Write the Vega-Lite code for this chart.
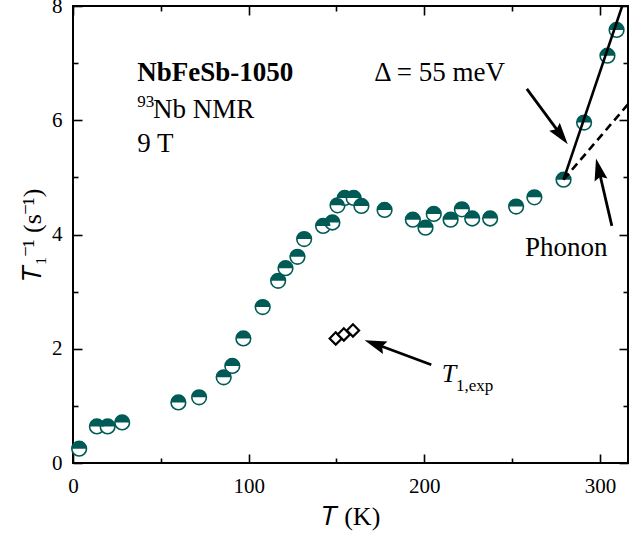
{
  "$schema": "https://vega.github.io/schema/vega-lite/v6.json",
  "width": 555,
  "height": 457,
  "autosize": {"type": "none"},
  "padding": {"left": 73, "top": 6, "right": 1, "bottom": 83},
  "background": "white",
  "config": {
    "view": {"stroke": "black", "strokeWidth": 2},
    "font": "Times New Roman, Liberation Serif, serif",
    "axis": {
      "domain": false,
      "grid": false,
      "labelFont": "Times New Roman, Liberation Serif, serif",
      "titleFont": "Times New Roman, Liberation Serif, serif",
      "labelColor": "black",
      "titleColor": "black",
      "tickColor": "black",
      "tickWidth": 1.6,
      "labelFontSize": 21,
      "titleFontSize": 26,
      "titleFontWeight": "normal",
      "labelFlush": false
    }
  },
  "datasets": {
    "main": [
      {"T": 3.5, "v": 0.25}, {"T": 13.6, "v": 0.64}, {"T": 19.7, "v": 0.64}, {"T": 28, "v": 0.71},
      {"T": 60, "v": 1.06}, {"T": 71.8, "v": 1.15}, {"T": 85.8, "v": 1.5}, {"T": 90.7, "v": 1.7},
      {"T": 97, "v": 2.18}, {"T": 108, "v": 2.73}, {"T": 116.8, "v": 3.19}, {"T": 121, "v": 3.41},
      {"T": 127.8, "v": 3.61}, {"T": 131.6, "v": 3.92}, {"T": 142.4, "v": 4.15}, {"T": 147.7, "v": 4.21},
      {"T": 150.6, "v": 4.51}, {"T": 154.7, "v": 4.64}, {"T": 159.8, "v": 4.64}, {"T": 164.2, "v": 4.5},
      {"T": 177.4, "v": 4.43}, {"T": 193.5, "v": 4.26}, {"T": 200.7, "v": 4.12}, {"T": 205.4, "v": 4.36},
      {"T": 215, "v": 4.26}, {"T": 221.4, "v": 4.44}, {"T": 227.3, "v": 4.28}, {"T": 237.5, "v": 4.28},
      {"T": 252.3, "v": 4.49}, {"T": 262.7, "v": 4.65}, {"T": 279.3, "v": 4.96}, {"T": 291, "v": 5.96},
      {"T": 304.3, "v": 7.13}, {"T": 309.5, "v": 7.58}
    ],
    "exp": [
      {"T": 149.6, "v": 2.18}, {"T": 154.2, "v": 2.25}, {"T": 159.4, "v": 2.32}
    ],
    "fit": [
      {"T": 279.3, "v": 4.96}, {"T": 313.8, "v": 8.1}
    ],
    "phonon": [
      {"T": 279.3, "v": 4.96}, {"T": 316, "v": 6.28}
    ],
    "arrows": [
      {"id": "gap", "T": 258.4, "v": 6.55, "T2": 276.9, "v2": 5.78},
      {"id": "phonon", "T": 306.8, "v": 4.15, "T2": 299.7, "v2": 5.09},
      {"id": "exp", "T": 204, "v": 1.72, "T2": 173.4, "v2": 2.07}
    ],
    "heads": [
      {"id": "gap", "T": 281.7, "v": 5.58},
      {"id": "phonon", "T": 297.8, "v": 5.33},
      {"id": "exp", "T": 166, "v": 2.15}
    ],
    "labels": [
      {"kind": "bold", "T": 36.6, "v": 6.69, "text": "NbFeSb-1050"},
      {"kind": "normal", "T": 45.5, "v": 6.04, "text": "Nb NMR"},
      {"kind": "small", "T": 36.6, "v": 6.23, "text": "93"},
      {"kind": "normal", "T": 36.6, "v": 5.45, "text": "9 T"},
      {"kind": "normal", "T": 171.5, "v": 6.69, "text": "Δ = 55 meV"},
      {"kind": "normal", "T": 257.4, "v": 3.62, "text": "Phonon"},
      {"kind": "italic", "T": 210, "v": 1.41, "text": "T"},
      {"kind": "small", "T": 218, "v": 1.26, "text": "1,exp"}
    ]
  },
  "encoding": {
    "x": {"field": "T", "type": "quantitative", "scale": {"domain": [0, 316], "nice": false, "zero": false}, "axis": null},
    "y": {"field": "v", "type": "quantitative", "scale": {"domain": [0, 8], "nice": false, "zero": false}, "axis": null}
  },
  "resolve": {"axis": {"x": "independent", "y": "independent"}},
  "layer": [
    {
      "data": {"name": "main"},
      "mark": {"type": "point", "shape": "circle", "filled": true, "fill": "white", "stroke": "#005a55", "strokeWidth": 1.6, "size": 215, "opacity": 1},
      "encoding": {
        "x": {
          "field": "T", "type": "quantitative",
          "scale": {"domain": [0, 316], "nice": false, "zero": false},
          "axis": {
            "orient": "bottom",
            "values": [0, 50, 100, 150, 200, 250, 300],
            "labelExpr": "datum.value % 100 === 0 ? datum.label : ''",
            "tickSize": {"condition": {"test": "datum.value % 100 === 0", "value": -9}, "value": -5},
            "labelPadding": 21,
            "title": "𝑇 (K)",
            "titlePadding": 7
          }
        },
        "y": {
          "field": "v", "type": "quantitative",
          "scale": {"domain": [0, 8], "nice": false, "zero": false},
          "axis": {
            "orient": "left",
            "values": [0, 1, 2, 3, 4, 5, 6, 7, 8],
            "labelExpr": "datum.value % 2 === 0 ? datum.label : ''",
            "tickSize": {"condition": {"test": "datum.value % 2 === 0", "value": -9}, "value": -5},
            "labelPadding": 20,
            "title": "𝑇₁⁻¹ (s⁻¹)",
            "titlePadding": 6
          }
        }
      }
    },
    {
      "data": {"name": "main"},
      "mark": {"type": "point", "shape": "M-1,0 A1,1 0 0 1 1,0 Z", "filled": true, "fill": "#005a55", "strokeWidth": 0, "size": 215, "opacity": 1},
      "encoding": {
        "x": {
          "field": "T", "type": "quantitative",
          "scale": {"domain": [0, 316], "nice": false, "zero": false},
          "axis": {
            "orient": "top",
            "values": [0, 50, 100, 150, 200, 250, 300],
            "labels": false,
            "tickSize": {"condition": {"test": "datum.value % 100 === 0", "value": -9}, "value": -5},
            "title": null
          }
        },
        "y": {
          "field": "v", "type": "quantitative",
          "scale": {"domain": [0, 8], "nice": false, "zero": false},
          "axis": {
            "orient": "right",
            "values": [0, 1, 2, 3, 4, 5, 6, 7, 8],
            "labels": false,
            "tickSize": {"condition": {"test": "datum.value % 2 === 0", "value": -9}, "value": -5},
            "title": null
          }
        }
      }
    },
    {
      "data": {"name": "fit"},
      "mark": {"type": "line", "color": "black", "strokeWidth": 2.6, "clip": true}
    },
    {
      "data": {"name": "phonon"},
      "mark": {"type": "line", "color": "black", "strokeWidth": 2.6, "strokeDash": [8, 5], "clip": true}
    },
    {
      "data": {"name": "exp"},
      "mark": {"type": "point", "shape": "diamond", "filled": true, "fill": "white", "stroke": "black", "strokeWidth": 2.2, "size": 150, "opacity": 1}
    },
    {
      "data": {"name": "arrows"},
      "mark": {"type": "rule", "color": "black", "strokeWidth": 2.8},
      "encoding": {
        "x2": {"field": "T2"},
        "y2": {"field": "v2"}
      }
    },
    {
      "data": {"name": "heads"},
      "transform": [{"filter": "datum.id === 'gap'"}],
      "mark": {"type": "point", "shape": "M0,0 L0.6,2 L0,1.7 L-0.6,2 Z", "filled": true, "color": "black", "opacity": 1, "size": 484, "angle": 143}
    },
    {
      "data": {"name": "heads"},
      "transform": [{"filter": "datum.id === 'phonon'"}],
      "mark": {"type": "point", "shape": "M0,0 L0.6,2 L0,1.7 L-0.6,2 Z", "filled": true, "color": "black", "opacity": 1, "size": 484, "angle": 347}
    },
    {
      "data": {"name": "heads"},
      "transform": [{"filter": "datum.id === 'exp'"}],
      "mark": {"type": "point", "shape": "M0,0 L0.6,2 L0,1.7 L-0.6,2 Z", "filled": true, "color": "black", "opacity": 1, "size": 484, "angle": 290}
    },
    {
      "data": {"name": "labels"},
      "transform": [{"filter": "datum.kind === 'bold'"}],
      "mark": {"type": "text", "align": "left", "baseline": "alphabetic", "font": "Times New Roman, Liberation Serif, serif", "fontSize": 27, "fontWeight": "bold", "color": "black"},
      "encoding": {"text": {"field": "text"}}
    },
    {
      "data": {"name": "labels"},
      "transform": [{"filter": "datum.kind === 'normal'"}],
      "mark": {"type": "text", "align": "left", "baseline": "alphabetic", "font": "Times New Roman, Liberation Serif, serif", "fontSize": 27, "color": "black"},
      "encoding": {"text": {"field": "text"}}
    },
    {
      "data": {"name": "labels"},
      "transform": [{"filter": "datum.kind === 'italic'"}],
      "mark": {"type": "text", "align": "left", "baseline": "alphabetic", "font": "Times New Roman, Liberation Serif, serif", "fontSize": 26, "fontStyle": "italic", "color": "black"},
      "encoding": {"text": {"field": "text"}}
    },
    {
      "data": {"name": "labels"},
      "transform": [{"filter": "datum.kind === 'small'"}],
      "mark": {"type": "text", "align": "left", "baseline": "alphabetic", "font": "Times New Roman, Liberation Serif, serif", "fontSize": 17, "color": "black"},
      "encoding": {"text": {"field": "text"}}
    }
  ]
}
